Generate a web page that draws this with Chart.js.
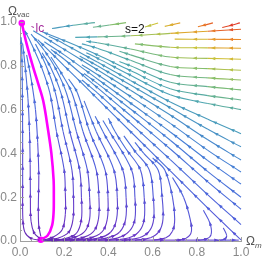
<!DOCTYPE html>
<html>
<head>
<meta charset="utf-8">
<script src="https://cdn.jsdelivr.net/npm/chart.js@4.4.1/dist/chart.umd.min.js"></script>
<style>
  html, body { margin: 0; padding: 0; background: #fff; }
</style>
</head>
<body>
<canvas id="plot" width="266" height="261"></canvas>
<script>
/* ---- tick values and labels ---- */
const xTicks = [0, 0.2, 0.4, 0.6, 0.8, 1.0];
const yTicks = [0, 0.2, 0.4, 0.6, 0.8, 1.0];
const xTitle = ["Ω", "m"];
const yTitle = ["Ω", "vac"];
const curveLabel = "lc";
const paramLabel = "s=2";

/* ---- the highlighted curve (Ωm, Ωvac) ---- */
const lcCurve = [[0.094,0.006],[0.125,0.025],[0.145,0.07],[0.152,0.13],[0.153,0.2],[0.152,0.28],
  [0.142,0.4],[0.127,0.507],[0.105,0.64],[0.082,0.72],[0.059,0.795],[0.03,0.9],[0.008,0.995]];

/* ---- streamlines left of the curve ---- */
const leftLines = [
  [[0.088,0.004],[0.05,0.012],[0.022,0.04],[0.013,0.1],[0.012,0.25],[0.012,0.45],[0.011,0.65],[0.009,0.82],[0.005,0.93]],
  [[0.09,0.012],[0.065,0.035],[0.05,0.09],[0.047,0.2],[0.046,0.35],[0.043,0.5],[0.036,0.65],[0.025,0.78],[0.012,0.9]],
  [[0.094,0.022],[0.085,0.07],[0.083,0.15],[0.085,0.3],[0.08,0.45],[0.07,0.6],[0.052,0.73],[0.03,0.85]]
];

/* ---- flow along the bottom axis ---- */
const axisLine = [[0.11,0.004],[0.2,0.004],[0.3,0.004],[0.4,0.004],[0.5,0.004],[0.6,0.004],[0.7,0.004],[0.8,0.004],[0.9,0.004],[0.99,0.004]];

/* ---- streamlines leaving the bottom and bending up to the top-left ---- */
const sourceLines = [
  [[0.105,0.004],[0.15,0.018],[0.19,0.05],[0.205,0.12],[0.205,0.22],[0.2,0.324],[0.165,0.5],[0.135,0.676],[0.095,0.8],[0.052,0.9],[0.022,0.96]],
  [[0.11,0.003],[0.17,0.012],[0.22,0.04],[0.24,0.1],[0.242,0.2],[0.235,0.324],[0.195,0.5],[0.16,0.676],[0.118,0.8],[0.07,0.9]],
  [[0.12,0.002],[0.2,0.01],[0.255,0.035],[0.278,0.1],[0.278,0.2],[0.27,0.324],[0.225,0.5],[0.185,0.676],[0.14,0.79],[0.1,0.86]],
  [[0.13,0.003],[0.23,0.012],[0.29,0.04],[0.315,0.1],[0.315,0.2],[0.305,0.324],[0.255,0.5],[0.21,0.676],[0.16,0.79],[0.11,0.87],[0.05,0.945]],
  [[0.16,0.003],[0.27,0.012],[0.33,0.04],[0.355,0.1],[0.357,0.2],[0.345,0.324],[0.285,0.5],[0.235,0.676],[0.185,0.77],[0.14,0.84]],
  [[0.2,0.003],[0.31,0.012],[0.37,0.04],[0.395,0.1],[0.398,0.2],[0.385,0.324],[0.315,0.5],[0.26,0.676],[0.22,0.74]],
  [[0.25,0.003],[0.35,0.012],[0.41,0.04],[0.437,0.1],[0.44,0.2],[0.425,0.324],[0.345,0.5],[0.29,0.64]],
  [[0.3,0.003],[0.39,0.013],[0.45,0.04],[0.478,0.1],[0.48,0.2],[0.465,0.324],[0.375,0.5],[0.34,0.57]],
  [[0.35,0.003],[0.44,0.013],[0.495,0.045],[0.52,0.1],[0.52,0.2],[0.505,0.324],[0.405,0.5],[0.375,0.55]],
  [[0.4,0.003],[0.49,0.014],[0.54,0.045],[0.562,0.1],[0.562,0.2],[0.545,0.324],[0.48,0.42],[0.43,0.5],[0.4,0.56]],
  [[0.46,0.003],[0.54,0.015],[0.585,0.045],[0.605,0.1],[0.603,0.2],[0.585,0.324],[0.52,0.41],[0.47,0.48]],
  [[0.52,0.003],[0.59,0.015],[0.63,0.045],[0.647,0.1],[0.643,0.2],[0.625,0.324],[0.56,0.4],[0.52,0.45]],
  [[0.6,0.003],[0.66,0.015],[0.69,0.045],[0.7,0.1],[0.69,0.2],[0.655,0.324],[0.6,0.38]],
  [[0.7,0.003],[0.75,0.012],[0.775,0.04],[0.77,0.1],[0.74,0.2],[0.69,0.29]],
  [[0.8,0.003],[0.845,0.01],[0.865,0.03],[0.86,0.08],[0.83,0.14]],
  [[0.89,0.002],[0.925,0.008],[0.935,0.025],[0.92,0.06]]
];

/* ---- streamlines entering from the right edge ---- */
const rightLines = [
  [[1,0.005],[0.85,0.15],[0.68,0.32],[0.5,0.5],[0.35,0.65],[0.2,0.8],[0.08,0.92]],
  [[1,0.075],[0.85,0.211],[0.68,0.372],[0.5,0.538],[0.35,0.676],[0.28,0.735]],
  [[1,0.145],[0.85,0.27],[0.68,0.42],[0.5,0.573],[0.35,0.7],[0.2,0.83],[0.14,0.875]],
  [[1,0.2],[0.85,0.317],[0.68,0.46],[0.5,0.603],[0.35,0.72],[0.29,0.765]],
  [[1,0.26],[0.85,0.367],[0.68,0.498],[0.5,0.63],[0.35,0.74],[0.2,0.85],[0.11,0.91]],
  [[1,0.315],[0.85,0.414],[0.68,0.537],[0.5,0.66],[0.35,0.76],[0.28,0.805]],
  [[1,0.37],[0.85,0.462],[0.68,0.575],[0.5,0.688],[0.35,0.782],[0.2,0.875],[0.06,0.96]],
  [[1,0.43],[0.85,0.51],[0.68,0.608],[0.5,0.712],[0.35,0.8],[0.27,0.845]],
  [[1,0.49],[0.85,0.556],[0.68,0.635],[0.5,0.733],[0.35,0.817],[0.2,0.9],[0.13,0.935]],
  [[1,0.6],[0.85,0.628],[0.68,0.668],[0.5,0.757],[0.35,0.835],[0.3,0.86]],
  [[1,0.644],[0.85,0.664],[0.68,0.695],[0.5,0.778],[0.35,0.85],[0.2,0.915],[0.1,0.955]],
  [[1,0.69],[0.85,0.705],[0.68,0.725],[0.5,0.8],[0.45,0.82]],
  [[1,0.735],[0.85,0.745],[0.68,0.76],[0.5,0.825],[0.35,0.88],[0.28,0.9]],
  [[1,0.78],[0.85,0.787],[0.68,0.797],[0.5,0.85],[0.45,0.866]],
  [[1,0.83],[0.85,0.834],[0.68,0.84],[0.5,0.877],[0.35,0.905],[0.3,0.912]],
  [[1,0.88],[0.85,0.882],[0.68,0.885],[0.52,0.9]],
  [[1,0.92],[0.85,0.921],[0.7,0.922]],
  [[1,0.967],[0.85,0.958],[0.68,0.948],[0.5,0.937],[0.35,0.932],[0.25,0.93]]
];

/* ---- short pieces along the top edge ---- */
const topLines = [
  [[0.995,0.996],[0.955,0.985],[0.915,0.975]],
  [[0.873,0.996],[0.84,0.987],[0.805,0.978]],
  [[0.725,0.996],[0.69,0.988],[0.655,0.98]],
  [[0.625,0.995],[0.595,0.986],[0.565,0.977]],
  [[0.48,0.997],[0.405,0.986],[0.33,0.976]],
  [[0.339,0.997],[0.24,0.985],[0.145,0.97]]
];

/* ---- colouring: rainbow by local speed (approximated from position) ---- */
const rainbow = [[0,[100,30,160]],[0.15,[105,55,200]],[0.28,[80,95,220]],[0.38,[70,125,215]],
  [0.5,[75,165,180]],[0.62,[130,190,110]],[0.74,[205,195,55]],[0.86,[235,145,40]],[1,[225,60,40]]];

function colorAt(x, y) {
  x = Math.max(0, Math.min(1, x));
  y = Math.max(0, Math.min(1, y));
  const t = Math.min(1, 0.05 + 0.35 * Math.pow(y, 0.7) + Math.pow(x, 1.3) * (0.17 + 0.5 * Math.pow(y, 3.5)));
  for (let i = 1; i < rainbow.length; i++) {
    if (t <= rainbow[i][0]) {
      const [t0, c0] = rainbow[i - 1], [t1, c1] = rainbow[i];
      const f = (t - t0) / (t1 - t0);
      const c = c0.map((v, k) => Math.round(v + (c1[k] - v) * f));
      return `rgb(${c[0]},${c[1]},${c[2]})`;
    }
  }
  return "rgb(225,60,40)";
}

function pixToData(chart, px, py) {
  return [chart.scales.x.getValueForPixel(px), chart.scales.y.getValueForPixel(py)];
}

function streamDataset(pts) {
  return {
    data: pts.map(([x, y]) => ({ x, y })),
    showLine: true,
    arrows: true,
    borderWidth: 1.1,
    tension: 0.35,
    pointRadius: 0,
    pointHoverRadius: 0,
    borderColor: "#5060d0",
    segment: {
      borderColor: ctx => {
        const [x, y] = pixToData(ctx.chart, (ctx.p0.x + ctx.p1.x) / 2, (ctx.p0.y + ctx.p1.y) / 2);
        return colorAt(x, y);
      }
    },
    clip: 4
  };
}

const datasets = [];
[...topLines, ...rightLines, ...sourceLines, axisLine, ...leftLines].forEach(l => datasets.push(streamDataset(l)));
datasets.push({
  data: lcCurve.map(([x, y]) => ({ x, y })),
  showLine: true,
  borderColor: "#ff00ff",
  borderWidth: 2.6,
  tension: 0.35,
  pointStyle: "circle",
  pointRadius: ctx => (ctx.dataIndex === 0 || ctx.dataIndex === lcCurve.length - 1) ? 3.3 : 0,
  pointBackgroundColor: "#ff00ff",
  pointBorderWidth: 0,
  clip: 6
});

/* ---- arrowheads placed along each drawn streamline ---- */
function drawArrow(ctx, x, y, dx, dy, col) {
  const L = Math.hypot(dx, dy) || 1, ux = dx / L, uy = dy / L;
  ctx.beginPath();
  ctx.moveTo(x + ux * 2.6, y + uy * 2.6);
  ctx.lineTo(x - ux * 1.8 - uy * 1.6, y - uy * 1.8 + ux * 1.6);
  ctx.lineTo(x - ux * 1.8 + uy * 1.6, y - uy * 1.8 - ux * 1.6);
  ctx.closePath();
  ctx.fillStyle = col;
  ctx.fill();
}

const arrowPlugin = {
  id: "arrows",
  afterDatasetsDraw(chart) {
    const ctx = chart.ctx;
    ctx.save();
    chart.data.datasets.forEach((ds, di) => {
      if (!ds.arrows) return;
      const pts = chart.getDatasetMeta(di).data;
      let acc = 9;
      for (let i = 0; i < pts.length - 1; i++) {
        const a = pts[i], b = pts[i + 1];
        const c1x = a.cp2x ?? a.x, c1y = a.cp2y ?? a.y, c2x = b.cp1x ?? b.x, c2y = b.cp1y ?? b.y;
        let px = a.x, py = a.y;
        for (let k = 1; k <= 24; k++) {
          const t = k / 24, u = 1 - t;
          const x = u*u*u*a.x + 3*u*u*t*c1x + 3*u*t*t*c2x + t*t*t*b.x;
          const y = u*u*u*a.y + 3*u*u*t*c1y + 3*u*t*t*c2y + t*t*t*b.y;
          acc -= Math.hypot(x - px, y - py);
          if (acc <= 0 && !(i === pts.length - 2 && k > 20)) {
            const [dx, dy] = pixToData(chart, x, y);
            drawArrow(ctx, x, y, x - px, y - py, colorAt(dx, dy));
            acc += 18;
          }
          px = x; py = y;
        }
      }
    });
    ctx.restore();
  }
};

/* ---- axis ticks, axis titles and the two annotations ---- */
const decorPlugin = {
  id: "decor",
  afterDraw(chart) {
    const ctx = chart.ctx, xs = chart.scales.x, ys = chart.scales.y;
    const x0 = xs.getPixelForValue(0), y0 = ys.getPixelForValue(0);
    ctx.save();
    ctx.strokeStyle = "#a0a0a0";
    ctx.lineWidth = 1;
    for (let v = 0; v <= 1.0001; v += 0.05) {
      const major = Math.abs(v * 5 - Math.round(v * 5)) < 1e-6;
      const len = major ? 4 : 2;
      const px = Math.round(xs.getPixelForValue(v)) + 0.5;
      ctx.beginPath(); ctx.moveTo(px, y0); ctx.lineTo(px, y0 - len); ctx.stroke();
      const py = Math.round(ys.getPixelForValue(v)) + 0.5;
      ctx.beginPath(); ctx.moveTo(x0, py); ctx.lineTo(x0 + len, py); ctx.stroke();
    }
    // axis titles
    ctx.fillStyle = "#555";
    ctx.textBaseline = "alphabetic";
    ctx.font = "12px 'Liberation Sans', Arial, sans-serif";
    ctx.fillText(yTitle[0], x0 - 12, ys.top - 7);
    ctx.font = "8px 'Liberation Sans', Arial, sans-serif";
    ctx.fillText(yTitle[1], x0 - 3, ys.top - 5);
    ctx.font = "12px 'Liberation Sans', Arial, sans-serif";
    ctx.fillText(xTitle[0], xs.right + 5, y0 + 4);
    ctx.font = "italic 8px 'Liberation Sans', Arial, sans-serif";
    ctx.fillText(xTitle[1], xs.right + 14, y0 + 7);
    // curve label with short leader
    const lx = xs.getPixelForValue(0.07), ly = ys.getPixelForValue(0.975);
    ctx.strokeStyle = "#a3299b";
    ctx.beginPath(); ctx.moveTo(lx - 4, ly - 1); ctx.lineTo(lx - 1.5, ly); ctx.stroke();
    ctx.fillStyle = "#a3299b";
    ctx.font = "12px 'Liberation Sans', Arial, sans-serif";
    ctx.textBaseline = "middle";
    ctx.fillText(curveLabel, lx, ly + 1);
    // parameter label
    ctx.fillStyle = "#111";
    ctx.textAlign = "center";
    ctx.fillText(paramLabel, xs.getPixelForValue(0.52), ys.getPixelForValue(0.97) + 1);
    ctx.restore();
  }
};

new Chart(document.getElementById("plot"), {
  type: "scatter",
  data: { datasets },
  plugins: [arrowPlugin, decorPlugin],
  options: {
    responsive: false,
    animation: false,
    events: [],
    layout: { padding: { left: 0, top: 22, right: 25, bottom: 0 } },
    plugins: { legend: { display: false }, tooltip: { enabled: false } },
    scales: {
      x: {
        type: "linear", min: 0, max: 1,
        afterFit: s => { s.height = 20; },
        afterBuildTicks: s => { s.ticks = xTicks.map(v => ({ value: v })); },
        grid: { display: false, drawTicks: false },
        border: { display: true, color: "#a0a0a0", width: 1 },
        ticks: { padding: 4, color: "#888", font: { family: "'Liberation Sans', Arial, sans-serif", size: 12 },
                 callback: v => Number(v).toFixed(1), maxRotation: 0 }
      },
      y: {
        type: "linear", min: 0, max: 1,
        afterFit: s => { s.width = 20; },
        afterBuildTicks: s => { s.ticks = yTicks.map(v => ({ value: v })); },
        grid: { display: false, drawTicks: false },
        border: { display: true, color: "#a0a0a0", width: 1 },
        ticks: { padding: 3, color: "#888", font: { family: "'Liberation Sans', Arial, sans-serif", size: 12 },
                 callback: v => Number(v).toFixed(1) }
      }
    }
  }
});
</script>
</body>
</html>
